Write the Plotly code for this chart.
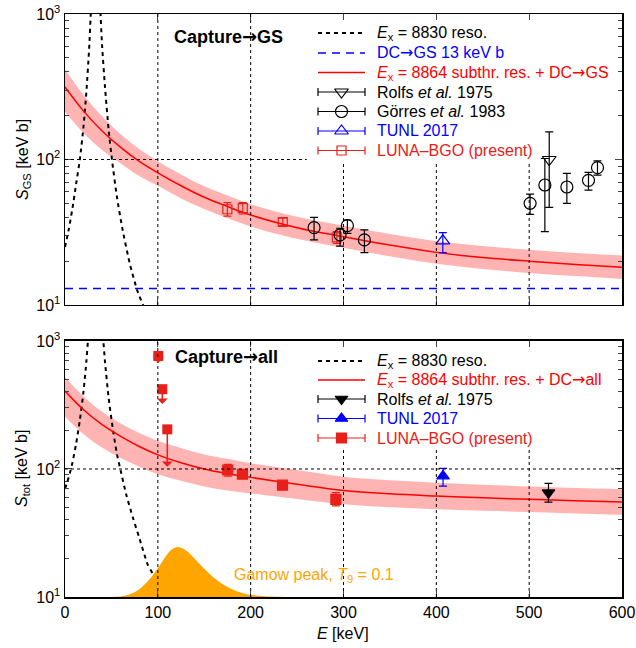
import math
import plotly.graph_objects as go

# ---------------- data ----------------
# model curves, common energy grid [keV]
E_curve = [0, 20, 40, 60, 80, 100, 125, 150, 175, 200, 250, 300, 350, 400, 450, 500, 550, 600]
S_gs_model = [315, 215, 157, 121, 97, 81, 66, 55, 47.5, 41.5, 34, 29.5, 25.8, 23, 21.2, 20, 19, 18.2]
S_gs_upper = [417, 277, 198, 149, 118, 97, 79, 65.5, 56.5, 49.3, 40.4, 35.1, 30.7, 27.4, 25.4, 24.0, 22.8, 21.9]
S_gs_lower = [213, 152, 116, 94, 77, 66, 54, 45.6, 39.5, 34.7, 28.5, 24.7, 21.6, 19.2, 17.7, 16.6, 15.8, 15.1]

S_tot_model = [406, 290, 222, 180, 150, 129, 112, 100, 92, 86, 76, 68, 64, 61.5, 59.5, 58, 56.5, 55.3]
S_tot_upper = [523, 369, 280, 227, 191, 166, 146, 130, 120, 111, 98, 87, 81.5, 78, 75.3, 73, 71.1, 69.6]
S_tot_lower = [256, 187, 147, 122, 104, 91, 81, 73, 68, 64.5, 58.3, 53, 50.2, 48.5, 47.1, 46.1, 44.9, 43.9]

# Ex = 8830 keV resonance
E_res_gs = [0, 4, 8, 12, 16, 20, 23, 26, 28, 30, 33, 36, 38, 40, 43, 47, 51, 56, 62, 70, 78, 84, 90]
S_res_gs = [25, 33, 46, 68, 100, 170, 290, 580, 1100, 3000, 8000, 3000, 1100, 600, 320, 160, 95, 55, 33, 19, 12.5, 10, 8]
E_res_tot = [0, 4, 8, 12, 16, 20, 23, 25, 28, 33, 38, 41, 43, 47, 52, 56, 60, 66, 73, 80, 89, 95, 100, 110, 120]
S_res_tot = [70, 86, 112, 158, 240, 408, 690, 1080, 2500, 8000, 2500, 1080, 700, 360, 195, 130, 97, 63, 42, 29, 18, 15, 13, 10.5, 9]

# direct capture to ground state
E_dc = [0, 600]
S_dc = [13, 13]

# Gamow peak T9 = 0.1 (drawn above the S = 10 floor)
S_FLOOR = 10
E_gamow = [50, 60, 70, 80, 90, 100, 105, 110, 115, 120, 125, 130, 135, 140, 150, 160, 170, 180, 190, 200, 215, 230, 250]
S_gamow = [10.0, 10.1, 10.5, 11.5, 13.5, 16.8, 19.0, 21.5, 23.5, 24.5, 24.3, 23.2, 21.6, 19.8, 16.6, 14.2, 12.6, 11.5, 10.8, 10.4, 10.15, 10.05, 10.0]

# ground-state capture data
luna_gs_E = [174.9, 191.5, 234.6, 292.8]
luna_gs_S = [45.5, 46.3, 37.2, 29.2]
luna_gs_hi = [50.5, 50.5, 39.6, 31.9]
luna_gs_lo = [40.8, 42.2, 35.2, 26.5]

gorres_E = [268.3, 296.3, 304.2, 322.5, 501, 516.9, 540.6, 563.9, 573.6]
gorres_S = [34.0, 30.3, 35.1, 28.0, 50.0, 66.8, 64.7, 71.9, 87.9]
gorres_hi = [40.0, 33.7, 38.4, 32.8, 57.9, 101.6, 80.3, 81.6, 97.7]
gorres_lo = [28.0, 25.4, 31.1, 22.9, 42.0, 31.9, 50.0, 61.6, 78.1]

rolfs_gs_E = [521.6]
rolfs_gs_S = [100]
rolfs_gs_hi = [155]
rolfs_gs_lo = [46.9]

tunl_gs_E = [407]
tunl_gs_S = [27.6]
tunl_gs_hi = [31.4]
tunl_gs_lo = [22.9]

# total capture data
luna_tot_E = [175.3, 191.1, 234.3, 291.8]
luna_tot_S = [98.2, 91.0, 74.7, 57.9]
luna_tot_hi = [108.8, 95.5, 78.5, 65.3]
luna_tot_lo = [88.0, 86.5, 71.0, 51.5]

luna_ul_E = [100.5, 104.8, 110.2]
luna_ul_S = [764, 420, 204]
luna_ul_end = [673, 322, 104]

tunl_tot_E = [407.2]
tunl_tot_S = [88.1]
tunl_tot_hi = [101]
tunl_tot_lo = [73.5]

rolfs_tot_E = [520.8]
rolfs_tot_S = [65.3]
rolfs_tot_hi = [77.3]
rolfs_tot_lo = [55.2]

x_ticks = [0, 100, 200, 300, 400, 500, 600]
y_ticks = [10, 100, 1000]
y_ticktext = ["10<sup>1</sup>", "10<sup>2</sup>", "10<sup>3</sup>"]
y_minor = [20, 30, 40, 50, 60, 70, 80, 90, 200, 300, 400, 500, 600, 700, 800, 900]

# ---------------- styles / layout constants ----------------
FONT = "Liberation Sans, Arial, Helvetica, sans-serif"
ARROW = '<span style="font-family:DejaVu Sans">→</span>'
RED = "#ff0000"
LUNA_RED = "#e8201a"
BLUE = "#0000ff"
PINK = "#ffb4b4"
ORANGE = "#ffa500"
BLACK = "#000000"

W, H = 636, 648
ML, MR, MT, MB = 65, 14, 14, 51
TOP_DOM = [0.50086, 1.0]
BOT_DOM = [0.0, 0.43911]


def px(xp):   # page pixel -> paper x
    return (xp - ML) / (W - ML - MR)


def py(yp):   # page pixel -> paper y
    return (H - MB - yp) / (H - MT - MB)


# legend geometry (page pixels)
LEG_X0, LEG_X1, LEG_TX = 318, 365, 375
LEG_TOP_ROWS = [33, 53, 72.5, 92, 111.5, 131, 150.5]
LEG_BOT_ROWS = [361, 380, 399, 418.5, 438]

fig = go.Figure()


def err(S, hi, lo):
    return dict(type="data", symmetric=False,
                array=[h - s for h, s in zip(hi, S)],
                arrayminus=[s - l for s, l in zip(S, lo)])


def add_errpoints(E, S, hi, lo, symbol, color, size, xa, ya, lw=1.2):
    e = err(S, hi, lo)
    e.update(color=color, thickness=1.2, width=4)
    fig.add_trace(go.Scatter(
        x=E, y=S, mode="markers", xaxis=xa, yaxis=ya, showlegend=False,
        marker=dict(symbol=symbol, size=size, color=color,
                    line=dict(color=color, width=lw)),
        error_y=e, hoverinfo="skip"))


def add_band_and_res(xa, ya, lower, upper, Eres, Sres):
    fig.add_trace(go.Scatter(x=E_curve, y=lower, mode="lines", line=dict(width=0, shape="spline"),
                             xaxis=xa, yaxis=ya, showlegend=False, hoverinfo="skip"))
    fig.add_trace(go.Scatter(x=E_curve, y=upper, mode="lines", line=dict(width=0, shape="spline"),
                             fill="tonexty", fillcolor=PINK,
                             xaxis=xa, yaxis=ya, showlegend=False, hoverinfo="skip"))
    fig.add_trace(go.Scatter(x=Eres, y=Sres, mode="lines",
                             line=dict(color=BLACK, width=2, dash="4px,4px", shape="spline", smoothing=0.6),
                             xaxis=xa, yaxis=ya, showlegend=False, hoverinfo="skip"))


# ---------- top panel ----------
add_band_and_res("x", "y", S_gs_lower, S_gs_upper, E_res_gs, S_res_gs)
fig.add_trace(go.Scatter(x=E_dc, y=S_dc, mode="lines", line=dict(color=BLUE, width=1.5, dash="8px,6px"),
                         xaxis="x", yaxis="y", showlegend=False, hoverinfo="skip"))
fig.add_trace(go.Scatter(x=E_curve, y=S_gs_model, mode="lines", line=dict(color=RED, width=1.5, shape="spline"),
                         xaxis="x", yaxis="y", showlegend=False, hoverinfo="skip"))
add_errpoints(luna_gs_E, luna_gs_S, luna_gs_hi, luna_gs_lo, "square-open", LUNA_RED, 9, "x", "y")
add_errpoints(gorres_E, gorres_S, gorres_hi, gorres_lo, "circle-open", BLACK, 12, "x", "y")
add_errpoints(rolfs_gs_E, rolfs_gs_S, rolfs_gs_hi, rolfs_gs_lo, "triangle-down-open", BLACK, 12, "x", "y")
add_errpoints(tunl_gs_E, tunl_gs_S, tunl_gs_hi, tunl_gs_lo, "triangle-up-open", BLUE, 12, "x", "y")

# ---------- bottom panel ----------
add_band_and_res("x2", "y2", S_tot_lower, S_tot_upper, E_res_tot, S_res_tot)
fig.add_trace(go.Scatter(x=E_curve, y=S_tot_model, mode="lines", line=dict(color=RED, width=1.5, shape="spline"),
                         xaxis="x2", yaxis="y2", showlegend=False, hoverinfo="skip"))
fig.add_trace(go.Scatter(x=E_gamow, y=[S_FLOOR] * len(E_gamow), mode="lines", line=dict(width=0),
                         xaxis="x2", yaxis="y2", showlegend=False, hoverinfo="skip"))
fig.add_trace(go.Scatter(x=E_gamow, y=S_gamow, mode="lines", line=dict(width=0, shape="spline"),
                         fill="tonexty", fillcolor=ORANGE,
                         xaxis="x2", yaxis="y2", showlegend=False, hoverinfo="skip"))
add_errpoints(luna_tot_E, luna_tot_S, luna_tot_hi, luna_tot_lo, "square", LUNA_RED, 10, "x2", "y2")
fig.add_trace(go.Scatter(x=luna_ul_E, y=luna_ul_S, mode="markers", xaxis="x2", yaxis="y2", showlegend=False,
                         marker=dict(symbol="square", size=10, color=LUNA_RED), hoverinfo="skip"))
add_errpoints(tunl_tot_E, tunl_tot_S, tunl_tot_hi, tunl_tot_lo, "triangle-up", BLUE, 11, "x2", "y2")
add_errpoints(rolfs_tot_E, rolfs_tot_S, rolfs_tot_hi, rolfs_tot_lo, "triangle-down", BLACK, 11, "x2", "y2")

annotations = []
for e, s0, s1 in zip(luna_ul_E, luna_ul_S, luna_ul_end):
    annotations.append(dict(x=e, y=math.log10(s1), ax=e, ay=math.log10(s0),
                            xref="x2", yref="y2", axref="x2", ayref="y2",
                            text="", showarrow=True, arrowhead=1, arrowsize=1.2,
                            arrowwidth=1.5, arrowcolor=LUNA_RED, standoff=0, startstandoff=0))

# ---------- legends: samples on an invisible frame spanning the plot area ----------
def leg_line(row, color, dash, width):
    fig.add_trace(go.Scatter(x=[LEG_X0, LEG_X1], y=[row, row], mode="lines",
                             line=dict(color=color, width=width, dash=dash),
                             xaxis="x3", yaxis="y3", showlegend=False, hoverinfo="skip"))


def leg_point(row, symbol, color, size):
    fig.add_trace(go.Scatter(x=[(LEG_X0 + LEG_X1) / 2], y=[row], mode="markers",
                             marker=dict(symbol=symbol, size=size, color=color,
                                         line=dict(color=color, width=1.2)),
                             error_x=dict(type="constant", value=(LEG_X1 - LEG_X0) / 2,
                                          color=color, thickness=1.2, width=4),
                             xaxis="x3", yaxis="y3", showlegend=False, hoverinfo="skip"))


def label(xp, yp, text, color=BLACK, size=16, xanchor="left", angle=0):
    annotations.append(dict(x=px(xp), y=py(yp), xref="paper", yref="paper", text=text,
                            showarrow=False, xanchor=xanchor, yanchor="middle", textangle=angle,
                            font=dict(family=FONT, size=size, color=color)))


Ex = "<i>E</i><sub>x</sub>"
top_items = [
    ("line", BLACK, "4px,4px", 2, f"{Ex} = 8830 reso.", BLACK),
    ("line", BLUE, "8px,6px", 1.5, f"DC{ARROW}GS 13 keV b", BLUE),
    ("line", RED, "solid", 1.5, f"{Ex} = 8864 subthr. res. + DC{ARROW}GS", RED),
    ("pt", BLACK, "triangle-down-open", 12, "Rolfs <i>et al.</i> 1975", BLACK),
    ("pt", BLACK, "circle-open", 12, "Görres <i>et al.</i> 1983", BLACK),
    ("pt", BLUE, "triangle-up-open", 12, "TUNL 2017", BLUE),
    ("pt", LUNA_RED, "square-open", 9, "LUNA–BGO (present)", LUNA_RED),
]
bot_items = [
    ("line", BLACK, "4px,4px", 2, f"{Ex} = 8830 reso.", BLACK),
    ("line", RED, "solid", 1.5, f"{Ex} = 8864 subthr. res. + DC{ARROW}all", RED),
    ("pt", BLACK, "triangle-down", 11, "Rolfs <i>et al.</i> 1975", BLACK),
    ("pt", BLUE, "triangle-up", 11, "TUNL 2017", BLUE),
    ("pt", LUNA_RED, "square", 10, "LUNA–BGO (present)", LUNA_RED),
]
for rows, items in ((LEG_TOP_ROWS, top_items), (LEG_BOT_ROWS, bot_items)):
    for row, (kind, col, sty, sz, txt, tcol) in zip(rows, items):
        if kind == "line":
            leg_line(row, col, sty, sz)
        else:
            leg_point(row, sty, col, sz)
        label(LEG_TX, row, txt, tcol)

# panel labels and axis titles
label(172, 36, f"<b>Capture{ARROW}GS</b>", size=18)
label(173, 357, f"<b>Capture{ARROW}all</b>", size=18)
label(232, 575, "Gamow peak, <i>T</i><sub>9</sub> = 0.1", ORANGE, 16)
label(23, 160, "<i>S</i><sub>GS</sub> [keV b]", xanchor="center", angle=-90)
label(23, 469, "<i>S</i><sub>tot</sub> [keV b]", xanchor="center", angle=-90)
label(343, 634, "<i>E</i> [keV]", xanchor="center")

# grid lines (dotted), clipped where the keys sit
shapes = []
GRID = dict(color=BLACK, width=1, dash="dot")
for xv in [100, 200, 300, 400, 500]:
    top_end = 1.0 if xv < 300 else 0.491
    bot_end = 1.0 if xv < 300 else 0.586
    shapes.append(dict(type="line", xref="x", yref="y domain", x0=xv, x1=xv, y0=0, y1=top_end,
                       line=GRID, layer="above"))
    shapes.append(dict(type="line", xref="x2", yref="y2 domain", x0=xv, x1=xv, y0=0, y1=bot_end,
                       line=GRID, layer="above"))
shapes.append(dict(type="line", xref="x domain", yref="y domain", x0=0, x1=0.434, y0=0.5, y1=0.5,
                   line=GRID, layer="above"))
shapes.append(dict(type="line", xref="x2 domain", yref="y2 domain", x0=0, x1=1, y0=0.5, y1=0.5,
                   line=GRID, layer="above"))

xcommon = dict(range=[0, 600], tickvals=x_ticks, ticks="inside", ticklen=6, tickwidth=1,
               showline=True, linecolor=BLACK, linewidth=1.5, mirror="ticks", automargin=False,
               showgrid=False, zeroline=False, tickfont=dict(family=FONT, size=16, color=BLACK))
ycommon = dict(type="log", range=[1, 3], tickvals=y_ticks, ticktext=y_ticktext, ticks="inside",
               ticklen=7, tickwidth=1, showline=True, linecolor=BLACK, linewidth=1.5, mirror="ticks",
               automargin=False, showgrid=False, zeroline=False,
               tickfont=dict(family=FONT, size=16, color=BLACK),
               minor=dict(tickvals=y_minor, ticks="inside", ticklen=4, tickwidth=1, showgrid=False))

fig.update_layout(
    template="none",
    width=W, height=H, autosize=False,
    margin=dict(l=ML, r=MR, t=MT, b=MB, pad=0),
    paper_bgcolor="white", plot_bgcolor="rgba(0,0,0,0)",
    font=dict(family=FONT, size=16, color=BLACK),
    xaxis=dict(domain=[0, 1], anchor="y", showticklabels=False, **xcommon),
    yaxis=dict(domain=TOP_DOM, anchor="x", **ycommon),
    xaxis2=dict(domain=[0, 1], anchor="y2", showticklabels=True, **xcommon),
    yaxis2=dict(domain=BOT_DOM, anchor="x2", **ycommon),
    xaxis3=dict(domain=[0, 1], anchor="y3", range=[ML, W - MR], visible=False,
                fixedrange=True, automargin=False),
    yaxis3=dict(domain=[0, 1], anchor="x3", range=[H - MB, MT], visible=False,
                fixedrange=True, automargin=False),
    showlegend=False,
    annotations=annotations,
    shapes=shapes,
)

fig.write_html("out.html", config={"displayModeBar": False, "staticPlot": True},
               post_script="document.body.style.margin='0px';")
